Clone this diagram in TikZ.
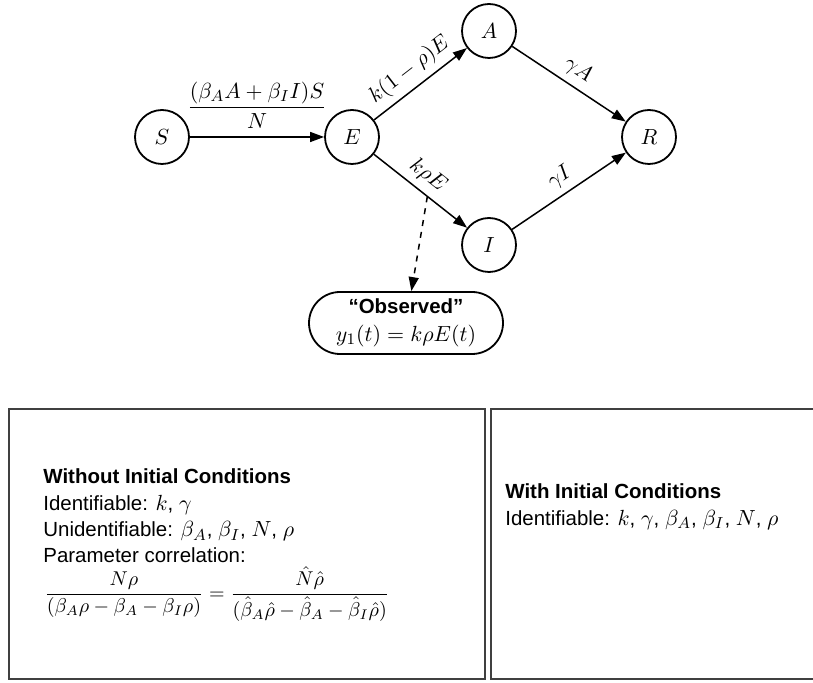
\documentclass[tikz,border=0pt]{standalone}
\usepackage{amsmath}
\usepackage[no-math]{fontspec}
\setmainfont{Liberation Sans}[Scale=0.93]
\usetikzlibrary{arrows.meta,calc,shapes.misc}
\begin{document}
\begin{tikzpicture}[x=0.5pt,y=-0.5pt,
  font=\fontsize{11}{13.2}\selectfont,
  state/.style={circle,draw,line width=0.9pt,minimum size=27pt,inner sep=0pt},
  flow/.style={-{Triangle[length=7pt,width=5pt]},line width=0.75pt},
  obsbox/.style={rounded rectangle,draw,line width=0.9pt,minimum width=101pt,minimum height=31pt,align=center,inner sep=2pt,font=\fontsize{11}{14}\selectfont},
  panel/.style={draw=black!75,line width=1pt},
  txt/.style={anchor=base west,inner sep=0pt}]
\clip (0,0) rectangle (813,683);
\node[state] (S) at (162,137) {$S$};
\node[state] (E) at (352,137) {$E$};
\node[state] (A) at (489,31) {$A$};
\node[state] (I) at (489,245) {$I$};
\node[state] (R) at (649,137) {$R$};
\draw[flow] (S) -- node[above=1pt] {$\dfrac{(\beta_A A+\beta_I I)S}{N}$} (E);
\draw[flow] (E) -- node[sloped,above] {$k(1-\rho)E$} (A);
\draw[flow] (E) -- node[sloped,above,pos=0.47] {$k\rho E$} (I);
\draw[flow] (A) -- node[sloped,above] {$\gamma A$} (R);
\draw[flow] (I) -- node[sloped,above] {$\gamma I$} (R);
\node[obsbox] (obs) at (406,323) {\textbf{“Observed”}\\ $y_1(t)=k\rho E(t)$};
\coordinate (m) at ($(E)!0.55!(I)$);
\draw[flow,dashed] (m) -- (obs);
\draw[panel] (9,409) rectangle (485,679);
\draw[panel] (491,409) rectangle (820,679);
\node[txt] (t1) at (43,483) {\textbf{Without Initial Conditions}};
\node[txt] (t2) at (43,510) {Identifiable: $k$, $\gamma$};
\node[txt] (t3) at (43,537) {Unidentifiable: $\beta_A$, $\beta_I$, $N$, $\rho$};
\node[txt] (t4) at (43,562) {Parameter correlation:};
\node[anchor=west,inner sep=0pt,font=\fontsize{10.4}{12.5}\selectfont] (t5) at (44,594) {$\dfrac{N\rho}{(\beta_A\rho-\beta_A-\beta_I\rho)}=\dfrac{\hat N\hat\rho}{(\hat\beta_A\hat\rho-\hat\beta_A-\hat\beta_I\hat\rho)}$};
\node[txt] (r1) at (505,499) {\textbf{With Initial Conditions}};
\node[txt] (r2) at (505,525) {Identifiable: $k$, $\gamma$, $\beta_A$, $\beta_I$, $N$, $\rho$};
\end{tikzpicture}
\end{document}
